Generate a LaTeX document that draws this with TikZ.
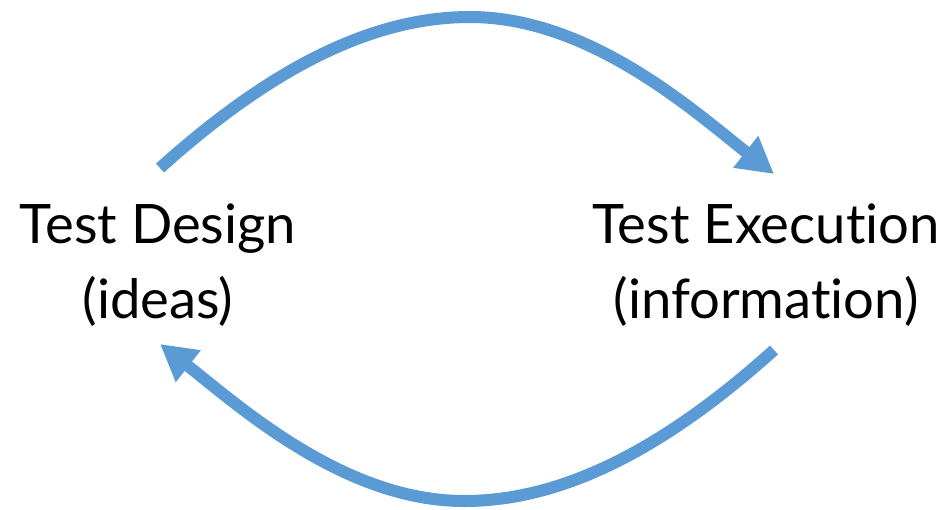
\documentclass[tikz,border=0pt]{standalone}
\usepackage{fontspec}
\setmainfont{Lato}[Ligatures=NoCommon]
\usetikzlibrary{arrows.meta}
\definecolor{loopblue}{RGB}{91,155,213}
\begin{document}
\begin{tikzpicture}[x=0.5pt,y=-0.5pt,
  label/.style={align=center,inner sep=0pt,font=\fontsize{27.2}{37.5}\selectfont},
  loop/.style={-{Triangle[length=18pt,width=19pt]},line width=6pt,draw=loopblue}]
\useasboundingbox (0,0) rectangle (945,509);
\node(design) [label] at (158,265) {Test Design\\(ideas)};
\node(execution) [label] at (766,265) {Test Execution\\(information)};
\coordinate (design out) at ([shift={(2,-97)}]design.center);
\coordinate (design in) at ([shift={(2,79)}]design.center);
\coordinate (execution in) at ([shift={(8,-91)}]execution.center);
\coordinate (execution out) at ([shift={(8,85)}]execution.center);
\draw [loop] (design out) .. controls (280,60) and (380,17) .. (470,17)
  .. controls (590,17) and (695,112) .. (execution in);
\draw [loop] (execution out) .. controls (654,458) and (554,501) .. (464,501)
  .. controls (344,501) and (239,406) .. (design in);
\end{tikzpicture}
\end{document}
